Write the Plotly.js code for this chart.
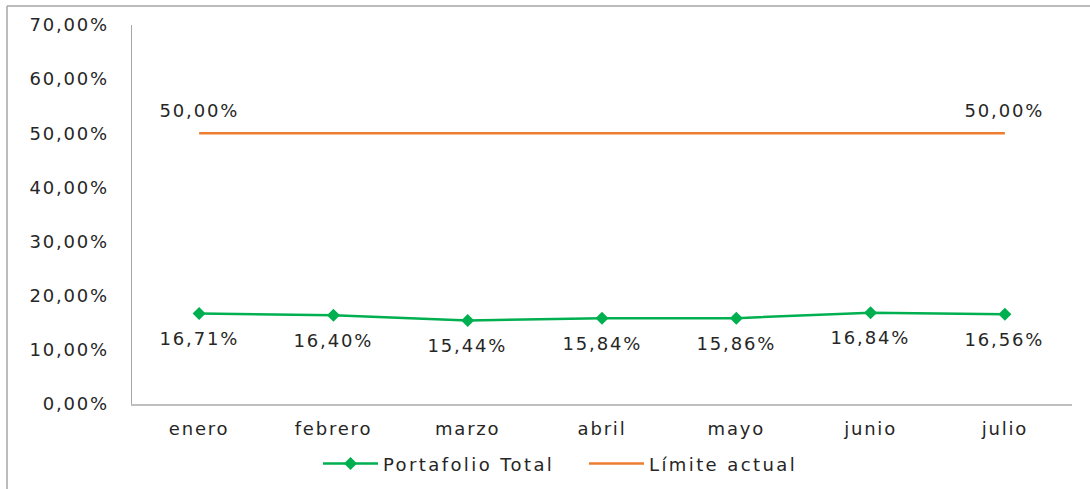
<!DOCTYPE html>
<html>
<head>
<meta charset="utf-8">
<script src="https://cdn.plot.ly/plotly-3.0.1.min.js"></script>
<style>
html,body{margin:0;padding:0;background:#fff;}
#chart{width:1090px;height:489px;}
#chart .annotation-text, #chart .xtick text, #chart .ytick text{letter-spacing:1.8px;}
#chart .legendtext{letter-spacing:2.4px;}
</style>
</head>
<body>
<div id="chart"></div>
<script>
const months = ["enero", "febrero", "marzo", "abril", "mayo", "junio", "julio"];
const portafolio = [16.71, 16.40, 15.44, 15.84, 15.86, 16.84, 16.56];
const limite = [50, 50, 50, 50, 50, 50, 50];
const yTicks = [0, 10, 20, 30, 40, 50, 60, 70];

const fmt = v => v.toFixed(2).replace('.', ',') + '%';
const font = "DejaVu Sans, Arial, sans-serif";
const txtColor = "#262626";

const traces = [
  {
    x: months, y: portafolio, name: "Portafolio Total", type: "scatter",
    mode: "lines+markers",
    line: {color: "#00B050", width: 2.5},
    marker: {symbol: "diamond", size: 10, color: "#00B050"},
    hoverinfo: "skip", cliponaxis: false
  },
  {
    x: months, y: limite, name: "Límite actual", type: "scatter",
    mode: "lines",
    line: {color: "#ED7D31", width: 2.5},
    hoverinfo: "skip", cliponaxis: false
  }
];

const annotations = [];
months.forEach((m, i) => {
  annotations.push({x: m, y: portafolio[i], xref: "x", yref: "y", text: fmt(portafolio[i]),
    showarrow: false, yshift: -25, font: {family: font, size: 18, color: txtColor}});
});
[0, limite.length - 1].forEach(i => {
  annotations.push({x: months[i], y: limite[i], xref: "x", yref: "y", text: fmt(limite[i]),
    showarrow: false, yshift: 23, font: {family: font, size: 18, color: txtColor}});
});

const layout = {
  width: 1090, height: 489,
  margin: {l: 132, r: 18, t: 25, b: 85, autoexpand: false},
  paper_bgcolor: "#fff", plot_bgcolor: "#fff",
  font: {family: font, size: 18, color: txtColor},
  showlegend: true,
  legend: {orientation: "h", x: (318 - 132) / 940, xanchor: "left", y: -0.158, yanchor: "middle",
           bgcolor: "rgba(0,0,0,0)", itemwidth: 55, entrywidth: 196, entrywidthmode: "pixels",
           font: {family: font, size: 18, color: txtColor}, traceorder: "normal"},
  xaxis: {
    type: "category", range: [-0.5, 6.5], showgrid: false, zeroline: false, automargin: false,
    showline: true, linecolor: "#BFBFBF", linewidth: 1.5, ticks: "", ticklabelstandoff: 8,
    tickfont: {family: font, size: 18, color: txtColor}, fixedrange: true
  },
  yaxis: {
    range: [0, 70], tickvals: yTicks, ticktext: yTicks.map(fmt), automargin: false,
    showgrid: false, zeroline: false, showline: true, linecolor: "#A6A6A6", linewidth: 1.5,
    ticks: "", ticklabelstandoff: 18,
    tickfont: {family: font, size: 18, color: txtColor}, fixedrange: true
  },
  annotations: annotations,
  shapes: [
    {type: "line", xref: "paper", yref: "paper", x0: -125/940, x1: 958/940, y0: 398/379, y1: 398/379,
     line: {color: "#A6A6A6", width: 1.5}},
    {type: "line", xref: "paper", yref: "paper", x0: -125/940, x1: -125/940, y0: 398/379, y1: -86/379,
     line: {color: "#A6A6A6", width: 1.5}}
  ]
};

Plotly.newPlot("chart", traces, layout, {displayModeBar: false, staticPlot: true});
</script>
</body>
</html>
